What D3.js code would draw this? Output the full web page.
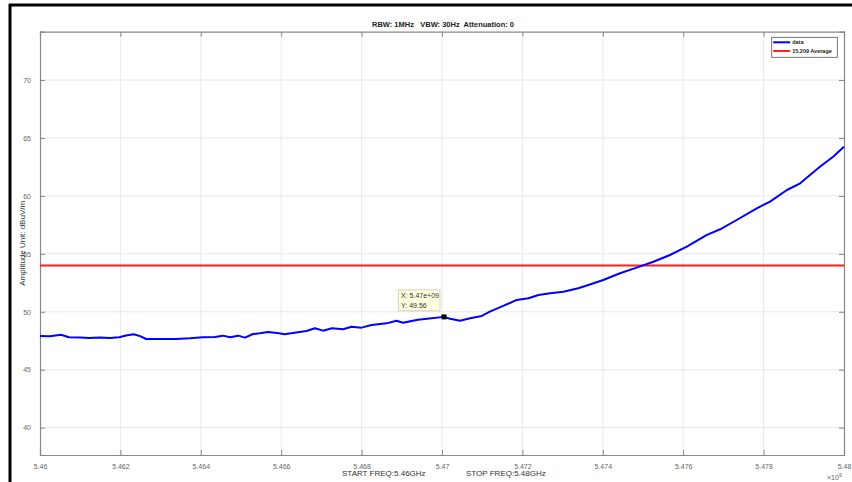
<!DOCTYPE html>
<html>
<head>
<meta charset="utf-8">
<script src="https://cdn.jsdelivr.net/npm/d3@7"></script>
<style>
  body { margin: 0; background: #fff; }
  svg { display: block; font-family: "Liberation Sans", Arial, sans-serif; }
  text { white-space: pre; }
</style>
</head>
<body>
<svg id="chart" width="852" height="482"></svg>
<script>
// frequency in GHz, amplitude in dBuV/m
const freqGHz = [
  5.46000, 5.46025, 5.46052, 5.46072, 5.46100, 5.46122, 5.46149, 5.46174, 5.46197, 5.46214,
  5.46233, 5.46249, 5.46264, 5.46299, 5.46338, 5.46373, 5.46405, 5.46435, 5.46455, 5.46473,
  5.46493, 5.46510, 5.46530, 5.46547, 5.46567, 5.46590, 5.46609, 5.46637, 5.46663, 5.46684,
  5.46704, 5.46726, 5.46754, 5.46775, 5.46800, 5.46825, 5.46862, 5.46887, 5.46903, 5.46940,
  5.46974, 5.47005, 5.47020, 5.47045, 5.47070, 5.47099, 5.47119, 5.47148, 5.47186, 5.47215,
  5.47240, 5.47269, 5.47302, 5.47339, 5.47368, 5.47401, 5.47443, 5.47484, 5.47526, 5.47567,
  5.47609, 5.47659, 5.47692, 5.47733, 5.47783, 5.47816, 5.47858, 5.47891, 5.47940, 5.47973,
  5.48000
]
const amplitude = [
  47.91, 47.88, 48.02, 47.80, 47.78, 47.74, 47.77, 47.74, 47.80, 47.95,
  48.06, 47.90, 47.65, 47.66, 47.66, 47.72, 47.80, 47.82, 47.94, 47.80,
  47.94, 47.77, 48.08, 48.15, 48.26, 48.17, 48.06, 48.22, 48.34, 48.58,
  48.37, 48.58, 48.49, 48.71, 48.63, 48.86, 49.00, 49.23, 49.05, 49.32,
  49.44, 49.56, 49.40, 49.23, 49.44, 49.64, 50.01, 50.44, 51.02, 51.17,
  51.45, 51.60, 51.73, 52.03, 52.35, 52.74, 53.32, 53.81, 54.32, 54.90,
  55.62, 56.63, 57.12, 57.92, 58.93, 59.50, 60.51, 61.09, 62.52, 63.38,
  64.25
]
const limitValue = 54 // 15.209 Average
const xTicks = [5.46, 5.462, 5.464, 5.466, 5.468, 5.47, 5.472, 5.474, 5.476, 5.478, 5.48]
const xTickLabels = ["5.46", "5.462", "5.464", "5.466", "5.468", "5.47", "5.472", "5.474", "5.476", "5.478", "5.48"]
const yTicks = [40, 45, 50, 55, 60, 65, 70]
const cursorPoint = { f: 5.47005, v: 49.56, label: ["X: 5.47e+09", "Y: 49.56"] }

const svg = d3.select("#chart")
const plotLeft = 40, plotRight = 844, plotTop = 31.7, plotBottom = 455

const x = d3.scaleLinear().domain([5.46, 5.48]).range([plotLeft, plotRight])
const y = d3.scaleLinear().domain([37.64, 74.17]).range([plotBottom, plotTop])

// figure frame (black edges of the window)
svg.append("line").attr("x1", 9).attr("x2", 852).attr("y1", 5).attr("y2", 5).attr("stroke", "#000").attr("stroke-width", 3)
svg.append("line").attr("x1", 10).attr("x2", 10).attr("y1", 4).attr("y2", 482).attr("stroke", "#000").attr("stroke-width", 3)

// grid
const grid = svg.append("g")
grid.selectAll(".gx").data(xTicks.slice(1, -1)).enter().append("line")
  .attr("x1", (d) => x(d)).attr("x2", (d) => x(d))
  .attr("y1", plotTop).attr("y2", plotBottom)
  .attr("stroke", "#e8e8e8").attr("stroke-width", 1)
grid.selectAll(".gy").data(yTicks).enter().append("line")
  .attr("x1", plotLeft).attr("x2", plotRight)
  .attr("y1", (d) => y(d)).attr("y2", (d) => y(d))
  .attr("stroke", "#e8e8e8").attr("stroke-width", 1)

// axes (ticks inward, box on)
const tickLen = 5
const axisBottom = d3.axisBottom(x).tickValues(xTicks).tickSize(-tickLen).tickPadding(9)
  .tickFormat((d, i) => xTickLabels[i])
const gx = svg.append("g").attr("transform", `translate(0,${plotBottom})`).call(axisBottom)
const axisLeft = d3.axisLeft(y).tickValues(yTicks).tickSize(-tickLen).tickPadding(9)
const gy = svg.append("g").attr("transform", `translate(${plotLeft},0)`).call(axisLeft)
const axisTop = d3.axisTop(x).tickValues(xTicks).tickSize(-tickLen).tickFormat("")
const gt = svg.append("g").attr("transform", `translate(0,${plotTop})`).call(axisTop)
const axisRight = d3.axisRight(y).tickValues(yTicks).tickSize(-tickLen).tickFormat("")
const gr = svg.append("g").attr("transform", `translate(${plotRight},0)`).call(axisRight)

;[gx, gy, gt, gr].forEach((g) => {
  g.select(".domain").attr("stroke", "#888").attr("stroke-width", 1.2)
  g.selectAll(".tick line").attr("stroke", "#888")
  g.selectAll(".tick text").attr("fill", "#666").attr("font-size", 7)
})

// x10^9 exponent
svg.append("text").attr("x", 827).attr("y", 480).attr("font-size", 7).attr("fill", "#666")
  .text("×10").append("tspan").attr("dy", -3).attr("font-size", 5).text("9")

// limit line
svg.append("line")
  .attr("x1", x(5.46)).attr("x2", x(5.48))
  .attr("y1", y(limitValue)).attr("y2", y(limitValue))
  .attr("stroke", "#ff2020").attr("stroke-width", 2)

// data trace
const points = freqGHz.map((f, i) => [f, amplitude[i]])
svg.append("path")
  .datum(points)
  .attr("fill", "none")
  .attr("stroke", "#0000ff")
  .attr("stroke-width", 2)
  .attr("stroke-linejoin", "round")
  .attr("d", d3.line().x((d) => x(d[0])).y((d) => y(d[1])))

// data cursor
const cx = x(cursorPoint.f), cy = y(cursorPoint.v)
svg.append("rect").attr("x", cx - 2.5).attr("y", cy - 2.5).attr("width", 5).attr("height", 5).attr("fill", "#000")
svg.append("rect").attr("x", cx - 45.7).attr("y", cy - 27).attr("width", 41.7).attr("height", 21)
  .attr("fill", "#ffffe0").attr("stroke", "#c8c8b0").attr("stroke-width", 0.8)
cursorPoint.label.forEach((t, i) => {
  svg.append("text").attr("x", cx - 43).attr("y", cy - 18.5 + i * 10).attr("font-size", 7).attr("fill", "#333").text(t)
})

// title and labels
svg.append("text").attr("x", 443).attr("y", 27).attr("text-anchor", "middle")
  .attr("font-size", 7.5).attr("font-weight", "bold").attr("fill", "#222")
  .text("RBW: 1MHz   VBW: 30Hz  Attenuation: 0")
svg.append("text").attr("x", 342).attr("y", 476).attr("font-size", 8).attr("fill", "#333").text("START FREQ:5.46GHz")
svg.append("text").attr("x", 466).attr("y", 476).attr("font-size", 8).attr("fill", "#333").text("STOP FREQ:5.48GHz")
svg.append("text").attr("transform", `translate(25,${(plotTop + plotBottom) / 2}) rotate(-90)`)
  .attr("text-anchor", "middle").attr("font-size", 8).attr("fill", "#333").text("Amplitude Unit: dBuV/m")

// legend
const legend = svg.append("g").attr("transform", "translate(771.7,37.3)")
legend.append("rect").attr("width", 65.6).attr("height", 20).attr("fill", "#fff").attr("stroke", "#555").attr("stroke-width", 0.8)
const legendItems = [{ name: "data", color: "#0000ff" }, { name: "15.209 Average", color: "#ff2020" }]
legendItems.forEach((d, i) => {
  const ly = 5 + i * 8.7
  legend.append("line").attr("x1", 1.5).attr("x2", 18.5).attr("y1", ly).attr("y2", ly).attr("stroke", d.color).attr("stroke-width", 2)
  legend.append("text").attr("x", 20.5).attr("y", ly + 2).attr("font-size", 5.5).attr("font-weight", "bold").attr("fill", "#222").text(d.name)
})
</script>
</body>
</html>
